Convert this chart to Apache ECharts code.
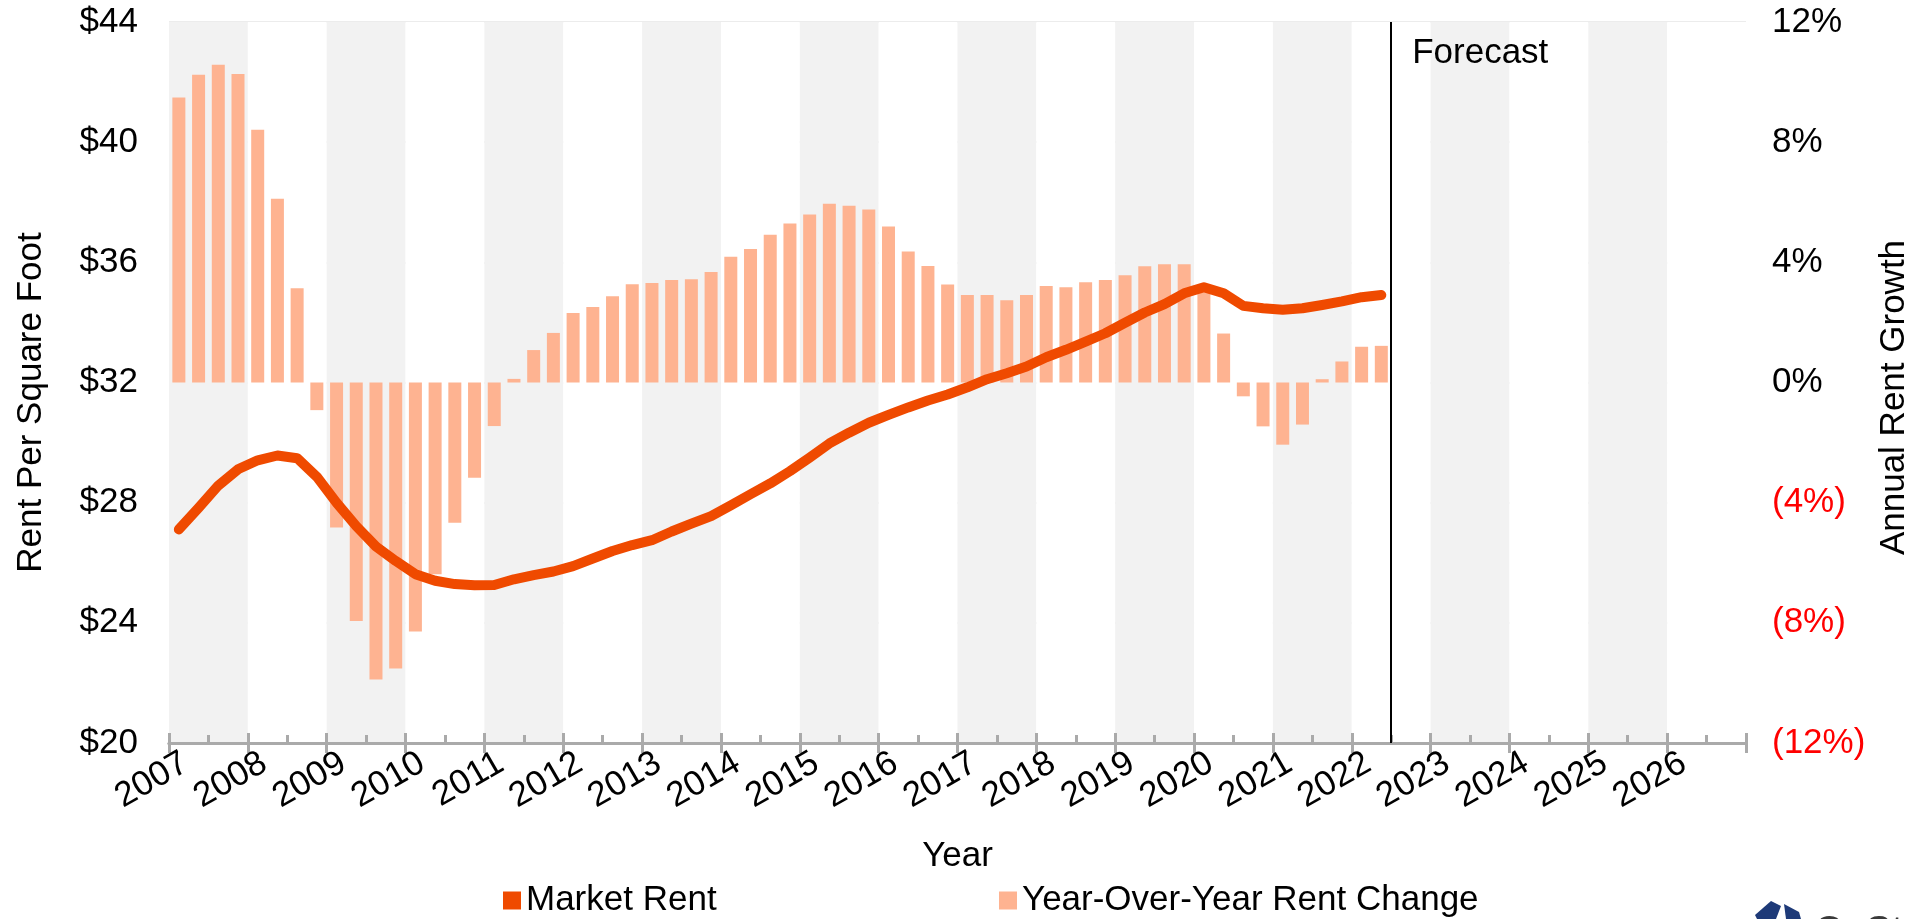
<!DOCTYPE html>
<html>
<head>
<meta charset="utf-8">
<script src="https://cdn.jsdelivr.net/npm/echarts@6/dist/echarts.min.js"></script>
<style>
  html, body { margin: 0; padding: 0; background: #fff; }
  #chart { width: 1932px; height: 919px; }
</style>
</head>
<body>
<div id="chart"></div>
<script>
// ---- Data ----
const quarters = [
  '2007 Q1','2007 Q2','2007 Q3','2007 Q4',
  '2008 Q1','2008 Q2','2008 Q3','2008 Q4',
  '2009 Q1','2009 Q2','2009 Q3','2009 Q4',
  '2010 Q1','2010 Q2','2010 Q3','2010 Q4',
  '2011 Q1','2011 Q2','2011 Q3','2011 Q4',
  '2012 Q1','2012 Q2','2012 Q3','2012 Q4',
  '2013 Q1','2013 Q2','2013 Q3','2013 Q4',
  '2014 Q1','2014 Q2','2014 Q3','2014 Q4',
  '2015 Q1','2015 Q2','2015 Q3','2015 Q4',
  '2016 Q1','2016 Q2','2016 Q3','2016 Q4',
  '2017 Q1','2017 Q2','2017 Q3','2017 Q4',
  '2018 Q1','2018 Q2','2018 Q3','2018 Q4',
  '2019 Q1','2019 Q2','2019 Q3','2019 Q4',
  '2020 Q1','2020 Q2','2020 Q3','2020 Q4',
  '2021 Q1','2021 Q2','2021 Q3','2021 Q4',
  '2022 Q1','2022 Q2'
];
const marketRent = [
  27.11, 27.83, 28.57, 29.11,
  29.41, 29.57, 29.48, 28.86,
  28.00, 27.22, 26.54, 26.06,
  25.62, 25.40, 25.29, 25.25,
  25.26, 25.45, 25.59, 25.71,
  25.89, 26.14, 26.39, 26.59,
  26.75, 27.04, 27.30, 27.55,
  27.91, 28.28, 28.64, 29.05,
  29.50, 29.97, 30.33, 30.66,
  30.92, 31.17, 31.40, 31.60,
  31.84, 32.11, 32.31, 32.53,
  32.84, 33.09, 33.36, 33.64,
  33.99, 34.33, 34.61, 34.97,
  35.17, 34.97, 34.55, 34.47,
  34.42, 34.47, 34.58, 34.70,
  34.84, 34.91
];
const rentChange = [
  9.49, 10.24, 10.58, 10.27,
  8.41, 6.12, 3.14, -0.92,
  -4.83, -7.94, -9.89, -9.52,
  -8.29, -6.38, -4.67, -3.17,
  -1.45, 0.12, 1.08, 1.65,
  2.31, 2.51, 2.87, 3.27,
  3.31, 3.41, 3.44, 3.68,
  4.19, 4.44, 4.92, 5.29,
  5.59, 5.95, 5.88, 5.76,
  5.19, 4.36, 3.88, 3.26,
  2.91, 2.91, 2.74, 2.91,
  3.21, 3.17, 3.34, 3.41,
  3.57, 3.87, 3.94, 3.94,
  3.10, 1.63, -0.46, -1.46,
  -2.07, -1.40, 0.11, 0.70,
  1.19, 1.22
];
const yearTickLabels = ['2007','2008','2009','2010','2011','2012','2013','2014','2015','2016',
  '2017','2018','2019','2020','2021','2022','2023','2024','2025','2026'];
const rentTicks = [20, 24, 28, 32, 36, 40, 44];
const growthTicks = [-12, -8, -4, 0, 4, 8, 12];
const forecastStart = '2022 Q3';
const seriesNames = ['Market Rent', 'Year-Over-Year Rent Change'];
const axisTitles = { x: 'Year', left: 'Rent Per Square Foot', right: 'Annual Rent Growth' };

// quarter label -> position on the year axis (middle of the quarter)
function quarterPos(label) {
  const [y, q] = label.split(' Q');
  return Number(y) + (Number(q) - 0.5) / 4;
}
function quarterStart(label) {
  const [y, q] = label.split(' Q');
  return Number(y) + (Number(q) - 1) / 4;
}

const FONT = 'Liberation Sans, Arial, sans-serif';
const FS = 35;
const LINE_COLOR = '#ef4a00';
const BAR_COLOR = '#feb391';
const AXIS_GRAY = '#aaaaaa';

const yearMin = Number(yearTickLabels[0]);
const yearMax = Number(yearTickLabels[yearTickLabels.length - 1]) + 1;

const chart = echarts.init(document.getElementById('chart'), null, { renderer: 'canvas' });

const option = {
  animation: false,
  backgroundColor: '#ffffff',
  textStyle: { fontFamily: FONT },
  grid: { left: 169, right: 186, top: 22, bottom: 176, containLabel: false },
  legend: [
    {
      data: [{ name: seriesNames[0], icon: 'rect' }],
      left: 498, top: 878,
      itemWidth: 18, itemHeight: 18,
      textStyle: { fontSize: FS, color: '#000', fontFamily: FONT }
    },
    {
      data: [{ name: seriesNames[1], icon: 'rect' }],
      left: 994, top: 878,
      itemWidth: 18, itemHeight: 18,
      textStyle: { fontSize: FS, color: '#000', fontFamily: FONT }
    }
  ],
  xAxis: [
    {
      type: 'value', min: yearMin, max: yearMax, interval: 1,
      position: 'bottom',
      name: axisTitles.x, nameLocation: 'middle', nameGap: 96,
      nameTextStyle: { fontSize: FS, color: '#000', fontFamily: FONT },
      axisLine: { show: true, onZero: false, lineStyle: { color: AXIS_GRAY, width: 3 } },
      axisTick: { show: true, inside: false, length: 10, lineStyle: { color: AXIS_GRAY, width: 3 } },
      minorTick: { show: false },
      axisLabel: {
        show: true, rotate: 30, margin: 7, align: 'right', verticalAlign: 'top',
        padding: [0, -9, 0, 0],
        fontSize: FS, color: '#000', fontFamily: FONT,
        formatter: function (v) {
          const s = String(Math.round(v));
          return yearTickLabels.indexOf(s) >= 0 ? s : '';
        }
      },
      splitLine: { show: false },
      splitArea: { show: true, areaStyle: { color: ['#f2f2f2', '#ffffff'] } }
    },
    {
      type: 'value', min: yearMin, max: yearMax, interval: 1,
      position: 'bottom', gridIndex: 0,
      axisLine: { show: true, onZero: false, lineStyle: { color: AXIS_GRAY, width: 3 } },
      axisTick: { show: true, inside: true, length: 10, lineStyle: { color: AXIS_GRAY, width: 3 } },
      minorTick: { show: true, splitNumber: 2, length: 8, lineStyle: { color: AXIS_GRAY, width: 3 } },
      axisLabel: { show: false },
      splitLine: { show: false },
      splitArea: { show: false }
    }
  ],
  yAxis: [
    {
      type: 'value', min: rentTicks[0], max: rentTicks[rentTicks.length - 1], interval: 4,
      position: 'left',
      axisLine: { show: false }, axisTick: { show: false },
      axisLabel: {
        margin: 31, fontSize: FS, color: '#000', fontFamily: FONT,
        formatter: v => '$' + v
      },
      splitLine: { show: true, lineStyle: { color: '#e6e6e6', width: 1.5 } }
    },
    {
      type: 'value', min: growthTicks[0], max: growthTicks[growthTicks.length - 1], interval: 4,
      position: 'right',
      axisLine: { show: false }, axisTick: { show: false },
      axisLabel: {
        margin: 26, fontSize: FS, color: '#000', fontFamily: FONT,
        formatter: v => v < 0 ? '{neg|(' + Math.abs(v) + '%)}' : v + '%',
        rich: { neg: { color: '#ff0000', fontSize: FS, fontFamily: FONT } }
      },
      splitLine: { show: false }
    }
  ],
  series: [
    {
      name: seriesNames[1], type: 'bar',
      xAxisIndex: 0, yAxisIndex: 1,
      barWidth: 13,
      itemStyle: { color: BAR_COLOR },
      data: rentChange.map((v, i) => [quarterPos(quarters[i]), v]),
      z: 2,
      markLine: {
        silent: true, symbol: ['none', 'none'],
        label: { show: false },
        lineStyle: { color: '#000', width: 2, type: 'solid' },
        data: [{ xAxis: quarterStart(forecastStart) }]
      }
    },
    {
      name: seriesNames[0], type: 'line',
      xAxisIndex: 0, yAxisIndex: 0,
      showSymbol: false, symbol: 'none', smooth: false,
      lineStyle: { color: LINE_COLOR, width: 10, cap: 'round', join: 'round' },
      itemStyle: { color: LINE_COLOR },
      data: marketRent.map((v, i) => [quarterPos(quarters[i]), v]),
      z: 5
    }
  ]
};
chart.setOption(option);

const fx = chart.convertToPixel({ xAxisIndex: 0 }, quarterStart(forecastStart));
const gridTop = chart.convertToPixel({ yAxisIndex: 0 }, rentTicks[rentTicks.length - 1]);
const gridBottom = chart.convertToPixel({ yAxisIndex: 0 }, rentTicks[0]);
const gridLeft = chart.convertToPixel({ xAxisIndex: 0 }, yearMin);
const gridRight = chart.convertToPixel({ xAxisIndex: 0 }, yearMax);
const midY = (gridTop + gridBottom) / 2;

chart.setOption({
  graphic: [
    {
      type: 'text', x: fx + 21, y: gridTop + 31,
      style: { text: 'Forecast', font: FS + 'px ' + FONT, fill: '#000', align: 'left', verticalAlign: 'middle' },
      z: 10
    },
    {
      type: 'text', x: gridLeft - 138, y: midY + 20, rotation: Math.PI / 2,
      style: { text: axisTitles.left, font: FS + 'px ' + FONT, fill: '#000', align: 'center', verticalAlign: 'middle' }
    },
    {
      type: 'text', x: gridRight + 148, y: midY + 15, rotation: Math.PI / 2,
      style: { text: axisTitles.right, font: FS + 'px ' + FONT, fill: '#000', align: 'center', verticalAlign: 'middle' }
    },
    {
      type: 'group', x: 0, y: 0,
      children: [
        { type: 'polygon', shape: { points: [[1755, 915], [1771, 901], [1781, 906], [1776, 919], [1757, 919]] }, style: { fill: '#1e3a78' } },
        { type: 'polygon', shape: { points: [[1784, 904], [1799, 912], [1801, 919], [1786, 919]] }, style: { fill: '#1e3a78' } },
        { type: 'text', x: 1814, y: 913, style: { text: 'CoStar', font: '40px ' + FONT, fill: '#3a3a3a', align: 'left', verticalAlign: 'top' } }
      ]
    }
  ]
});
</script>
</body>
</html>
